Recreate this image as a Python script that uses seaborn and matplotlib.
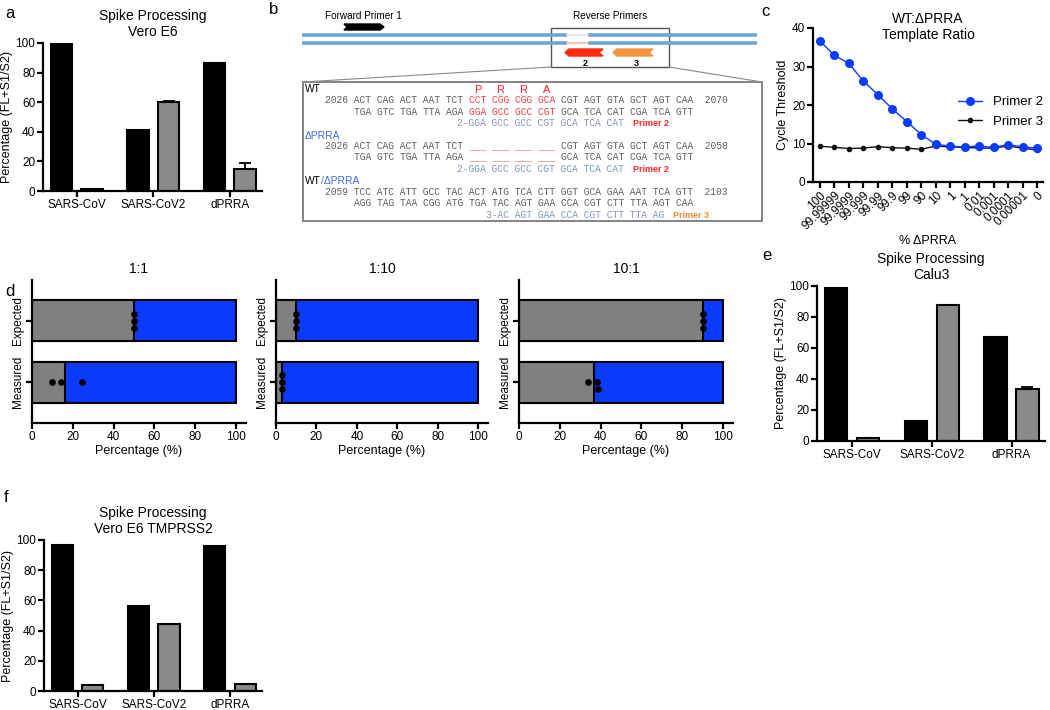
import matplotlib
matplotlib.use("Agg")
import pandas as pd
import matplotlib.pyplot as plt
from matplotlib.patches import Polygon, Rectangle
import seaborn as sns

# ---------------- data ----------------
viruses = ["SARS-CoV", "SARS-CoV2", "dPRRA"]

vero_fl = [99.5, 41.0, 86.5]
vero_cleaved = [1.3, 60.0, 14.6]
vero_err = [0, 0.5, 4.3]

calu_fl = [99.0, 13.0, 67.0]
calu_cleaved = [1.9, 87.5, 33.3]
calu_err = [0.3, 0, 1.8]

tmprss_fl = [97.0, 56.0, 96.3]
tmprss_cleaved = [4.0, 44.4, 4.4]
tmprss_err = [0, 0, 0]

ratio_labels = ["100", "99.99999", "99.9999", "99.999", "99.99", "99.9", "99", "90",
                "10", "1", ".1", "0.01", "0.001", "0.0001", "0.00001", "0"]
ct_primer2 = [36.6, 32.9, 30.8, 26.2, 22.7, 19.0, 15.7, 12.3,
              9.8, 9.3, 9.1, 9.35, 9.0, 9.7, 9.1, 8.8]
ct_primer3 = [9.3, 9.0, 8.7, 8.8, 9.2, 8.9, 8.8, 8.5,
              9.35, 9.1, 9.0, 8.8, 8.8, 9.35, 8.8, 8.3]

mix_titles = ["1:1", "1:10", "10:1"]
mix_rows = ["Expected", "Measured"]
mix_total = [100, 100]
expected_wt = [[50, 50, 50], [10, 10, 10], [90, 90, 90]]
measured_wt = [[9.8, 14.0, 24.5], [2.9, 3.0, 3.2], [33.9, 38.3, 38.7]]

# sequences shown in panel b (pieces: text, colour key)
wt_top = [("2026 ACT CAG ACT AAT TCT ", "seq"), ("CCT CGG CGG GCA", "red"),
          (" CGT AGT GTA GCT AGT CAA  2070", "seq")]
wt_bottom = [("     TGA GTC TGA TTA AGA ", "seq"), ("GGA GCC GCC CGT", "red"),
             (" GCA TCA CAT CGA TCA GTT", "seq")]
primer2_seq = [("                       2-GGA GCC GCC CGT GCA TCA CAT", "primer")]
del_top = [("2026 ACT CAG ACT AAT TCT ", "seq"), ("___ ___ ___ ___", "dash"),
           (" CGT AGT GTA GCT AGT CAA  2058", "seq")]
del_bottom = [("     TGA GTC TGA TTA AGA ", "seq"), ("___ ___ ___ ___", "dash"),
              (" GCA TCA CAT CGA TCA GTT", "seq")]
down_top = [("2059 TCC ATC ATT GCC TAC ACT ATG TCA CTT GGT GCA GAA AAT TCA GTT  2103", "seq")]
down_bottom = [("     AGG TAG TAA CGG ATG TGA TAC AGT GAA CCA CGT CTT TTA AGT CAA", "seq")]
primer3_seq = [("                            3-AC AGT GAA CCA CGT CTT TTA AG", "primer")]
prra = ["P", "R", "R", "A"]

# ---------------- style ----------------
W, H = 1050, 710
BLACK = "#000000"
GREY = "#8a8a8a"
BLUE = "#0a3bff"
SEQ_COLORS = {"seq": "#5e5e5e", "red": "#f04040", "primer": "#8197bd", "dash": "#f08c8c"}

sns.set_style("ticks")
plt.rcParams["font.family"] = ["Liberation Sans", "DejaVu Sans"]
plt.rcParams.update({"axes.edgecolor": "black", "xtick.color": "black", "ytick.color": "black",
                     "text.color": "black", "axes.labelcolor": "black"})


def rect(l, t, r, b):
    return [l / W, 1 - b / H, (r - l) / W, (b - t) / H]


def prism(ax):
    sns.despine(ax=ax)
    for s in ["left", "bottom"]:
        ax.spines[s].set_linewidth(1.6)
    ax.tick_params(width=1.6, length=4, labelsize=8.5, pad=1.5)


def spike_panel(ax, fl, cleaved, err, title):
    df = pd.DataFrame({"virus": viruses * 2,
                       "fraction": ["FL"] * 3 + ["S1/S2"] * 3,
                       "pct": fl + cleaved})
    sns.barplot(data=df, x="virus", y="pct", hue="fraction", palette=[BLACK, GREY],
                saturation=1, edgecolor="black", linewidth=1.5, width=0.8, gap=0.3,
                errorbar=None, legend=False, ax=ax)
    bars = ax.containers[1]
    for bar, val, e in zip(bars, cleaved, err):
        if e > 0:
            ax.errorbar(bar.get_x() + bar.get_width() / 2, val, yerr=[[0], [e]], fmt="none",
                        ecolor="black", elinewidth=1.3, capsize=4, capthick=1.3)
    ax.set_ylim(0, 100)
    ax.set_xlim(-0.44, 2.42)
    ax.set_yticks(range(0, 101, 20))
    ax.set_xlabel("")
    ax.set_ylabel("Percentage (FL+S1/S2)", fontsize=9, labelpad=2)
    ax.set_title(title, fontsize=10, pad=5, linespacing=1.15)
    prism(ax)


fig = plt.figure(figsize=(W / 100, H / 100), dpi=100)

# a, e, f
spike_panel(fig.add_axes(rect(43, 43, 262, 191)), vero_fl, vero_cleaved, vero_err,
            "Spike Processing\nVero E6")
spike_panel(fig.add_axes(rect(817, 286, 1045, 441)), calu_fl, calu_cleaved, calu_err,
            "Spike Processing\nCalu3")
spike_panel(fig.add_axes(rect(44, 540, 262, 691)), tmprss_fl, tmprss_cleaved, tmprss_err,
            "Spike Processing\nVero E6 TMPRSS2")

# c
axc = fig.add_axes(rect(813, 28, 1043, 182))
df_c = pd.DataFrame({"ratio": ratio_labels, "p2": ct_primer2, "p3": ct_primer3})
sns.pointplot(data=df_c, x="ratio", y="p3", order=ratio_labels, color="#111111",
              errorbar=None, markersize=4, markeredgewidth=0, linewidth=1, ax=axc)
sns.pointplot(data=df_c, x="ratio", y="p2", order=ratio_labels, color=BLUE,
              errorbar=None, markersize=6.5, markeredgewidth=0, linewidth=1, ax=axc)
axc.set_xlim(-0.48, 15.41)
axc.set_ylim(0, 40)
axc.set_yticks(range(0, 41, 10))
axc.set_xticks(range(len(ratio_labels)))
axc.set_xticklabels(ratio_labels, rotation=45, ha="right", rotation_mode="anchor")
axc.set_ylabel("Cycle Threshold", fontsize=9, labelpad=2)
axc.set_xlabel("% \u0394PRRA", fontsize=9, labelpad=2)
axc.set_title("WT:\u0394PRRA\nTemplate Ratio", fontsize=10, y=0.93, pad=0, linespacing=1.2)
prism(axc)
lines = axc.get_lines()
axc.legend(handles=[lines[-1], lines[0]], labels=["Primer 2", "Primer 3"], frameon=False,
           loc="center left", bbox_to_anchor=(0.58, 0.455), fontsize=9.5, handlelength=1.8,
           labelspacing=0.55)

# d
for i, (l, r) in enumerate([(32, 246), (276, 488), (519, 733)]):
    ax = fig.add_axes(rect(l, 280, r, 423))
    rows = pd.DataFrame({"kind": ["Expected"] * 3 + ["Measured"] * 3,
                         "wt": expected_wt[i] + measured_wt[i]})
    sns.barplot(x=mix_total, y=mix_rows, color=BLUE, saturation=1, orient="h", width=0.67,
                edgecolor="black", linewidth=1.5, ax=ax)
    sns.barplot(data=rows, x="wt", y="kind", order=mix_rows, color="#808080", saturation=1,
                orient="h", errorbar=None, width=0.67, edgecolor="black", linewidth=1.5, ax=ax)
    sns.swarmplot(data=rows, x="wt", y="kind", order=mix_rows, color="black", size=4.8,
                  orient="h", ax=ax)
    ax.set_xlim(0, 104.9)
    ax.set_ylim(1.67, -0.67)
    ax.set_xticks(range(0, 101, 20))
    ax.set_yticks([0, 1])
    ax.set_yticklabels(mix_rows, rotation=90, va="center")
    ax.set_ylabel("")
    ax.set_xlabel("Percentage (%)", fontsize=9, labelpad=2)
    ax.set_title(mix_titles[i], fontsize=10, pad=5)
    prism(ax)

# ---------------- overlay: panel b diagram and panel letters ----------------
ov = fig.add_axes([0, 0, 1, 1])
ov.set_xlim(0, W)
ov.set_ylim(H, 0)
ov.axis("off")

for letter, x, y in [("a", 10, 14), ("b", 274, 9), ("c", 765, 11),
                     ("d", 10, 291), ("e", 767, 256), ("f", 6, 497)]:
    ov.text(x, y, letter, fontsize=12, ha="center", va="center")

# strands
strand = "#6ea4d8"
for y in (35, 43):
    ov.plot([302, 567], [y, y], color=strand, lw=2.6, solid_capstyle="butt")
    ov.plot([588, 757], [y, y], color=strand, lw=2.6, solid_capstyle="butt")
ov.plot([567, 588], [35, 35], color="#d9e3ef", lw=1.2)
ov.plot([567, 588], [43, 43], color="#f2b6ae", lw=1.2)

# primers
ov.add_patch(Polygon([(344, 24), (380, 24), (384, 27), (380, 30), (344, 30), (347, 27)],
                     closed=True, color="black"))
ov.add_patch(Polygon([(569, 49), (603, 49), (599, 52.5), (603, 56), (569, 56), (565, 52.5)],
                     closed=True, color="#ff2a10"))
ov.add_patch(Polygon([(617, 49), (653, 49), (649, 52.5), (653, 56), (617, 56), (613, 52.5)],
                     closed=True, color="#f39540"))
ov.text(585, 63, "2", fontsize=6.5, fontweight="bold", ha="center", va="center")
ov.text(636, 63, "3", fontsize=6.5, fontweight="bold", ha="center", va="center")
ov.text(363, 16, "Forward Primer 1", fontsize=7.2, ha="center", va="center")
ov.text(610, 16, "Reverse Primers", fontsize=7.2, ha="center", va="center")

# zoom box
ov.add_patch(Rectangle((551, 28), 118, 39, fill=False, ec="#555555", lw=1))
ov.plot([551, 303], [67, 82], color="#888888", lw=0.8)
ov.plot([669, 762], [67, 82], color="#888888", lw=0.8)
ov.add_patch(Rectangle((303, 82), 459, 139, fill=False, ec="#7a7a7a", lw=1.3))

SEQ_FS = 6.9
SEQ_X = 325
cw = SEQ_FS * 100 / 72 * 0.6


def mono_line(y, pieces):
    pos = 0
    for text, key in pieces:
        lead = len(text) - len(text.lstrip(" "))
        ov.text(SEQ_X + (pos + lead) * cw, y + 3.3, text.lstrip(" "), color=SEQ_COLORS[key],
                family="Liberation Mono", fontsize=SEQ_FS, ha="left", va="baseline")
        pos += len(text)


for k, aa in enumerate(prra):
    ov.text(SEQ_X + (26.5 + 4 * k) * cw, 90, aa, color="#ff2020", fontsize=8,
            ha="center", va="center")

ov.text(305, 89, "WT", fontsize=7.4, ha="left", va="center")
mono_line(100, wt_top)
mono_line(112, wt_bottom)
mono_line(123, primer2_seq)
ov.text(633, 123, "Primer 2", fontsize=6.5, fontweight="bold", color="#ff2a2a", va="center")
ov.text(305, 136, "\u0394PRRA", fontsize=7.4, color="#3d6ff0", ha="left", va="center")
mono_line(146, del_top)
mono_line(157, del_bottom)
mono_line(169, primer2_seq)
ov.text(633, 169, "Primer 2", fontsize=6.5, fontweight="bold", color="#ff2a2a", va="center")
wt_lab = ov.text(305, 181, "WT", fontsize=7.4, ha="left", va="center")
ov.annotate("/\u0394PRRA", xy=(1, 0.5), xycoords=wt_lab, fontsize=7.4, color="#3d6ff0",
            ha="left", va="center")
mono_line(192, down_top)
mono_line(203, down_bottom)
mono_line(215, primer3_seq)
ov.text(673, 215, "Primer 3", fontsize=6.5, fontweight="bold", color="#f08a30", va="center")

fig.savefig("out.png", dpi=100)
